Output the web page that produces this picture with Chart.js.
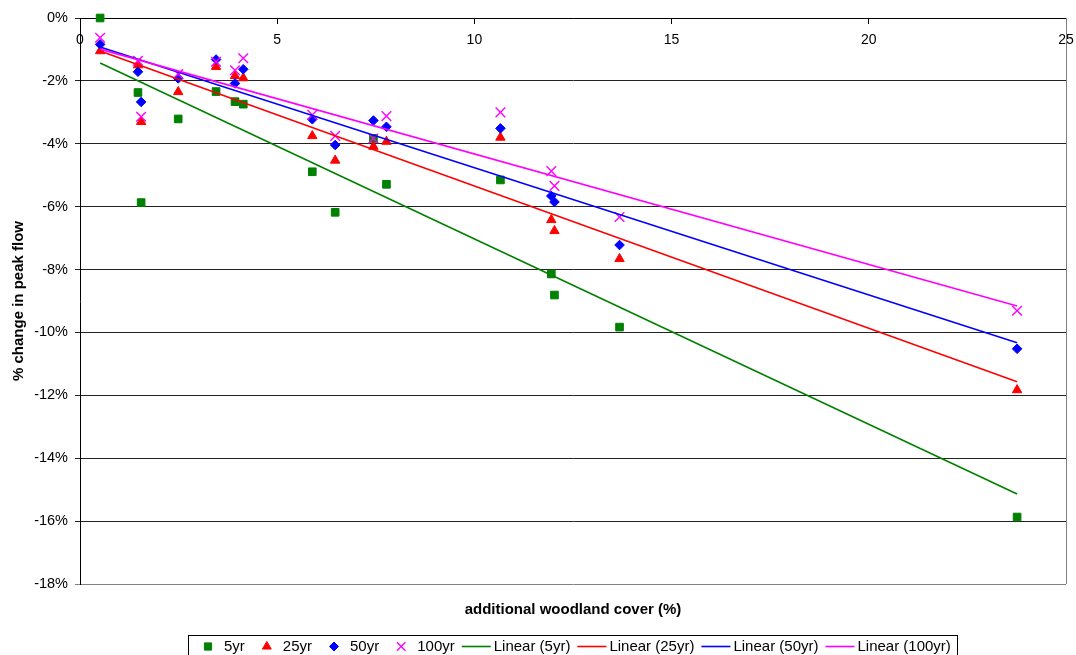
<!DOCTYPE html>
<html>
<head>
<meta charset="utf-8">
<script src="https://cdn.jsdelivr.net/npm/chart.js@4/dist/chart.umd.min.js"></script>
<style>
  html, body { margin: 0; padding: 0; background: #fff; }
</style>
</head>
<body>
<canvas id="chart" width="1076" height="655"></canvas>
<script>
// additional woodland cover (%) for each catchment scenario
const woodland = [0.51, 1.47, 1.55, 2.49, 3.45, 3.93, 4.14, 5.89, 6.47, 7.44, 7.77, 10.66, 11.95, 12.03, 13.68, 23.76];

// % change in peak flow per return period
const flow5yr   = [0, -2.37, -5.87, -3.21, -2.34, -2.66, -2.74, -4.89, -6.18, -3.83, -5.29, -5.15, -8.14, -8.81, -9.83, -15.87];
const flow25yr  = [-1.05, -1.50, -3.30, -2.35, -1.55, -1.84, -1.91, -3.75, -4.53, -4.09, -3.93, -3.80, -6.42, -6.77, -7.66, -11.83];
const flow50yr  = [-0.84, -1.71, -2.67, -1.92, -1.32, -2.08, -1.63, -3.22, -4.04, -3.26, -3.46, -3.51, -5.66, -5.85, -7.22, -10.52];
const flow100yr = [-0.63, -1.36, -3.14, -1.78, -1.39, -1.66, -1.28, -3.08, -3.75, -3.83, -3.12, -3.00, -4.87, -5.34, -6.33, -9.31];

// linear trendlines at first and last x
const trendX      = [0.51, 23.76];
const trend5yr    = [-1.43, -15.14];
const trend25yr   = [-1.05, -11.57];
const trend50yr   = [-0.92, -10.33];
const trend100yr  = [-0.99, -9.16];

const yTicks = [0, -2, -4, -6, -8, -10, -12, -14, -16, -18];
const xTicks = [0, 5, 10, 15, 20, 25];

const FONT = "'Liberation Sans', Arial, sans-serif";
Chart.defaults.font.family = FONT;
Chart.defaults.color = '#000';

const pts = (xs, ys) => xs.map((x, i) => ({ x: x, y: ys[i] }));

function markerSet(label, ys, style, color, radius, order) {
  return {
    label: label,
    data: pts(woodland, ys),
    pointStyle: style,
    pointRadius: radius,
    pointHoverRadius: radius,
    backgroundColor: color,
    borderColor: color,
    pointBorderWidth: style === 'crossRot' ? 1.4 : 1,
    showLine: false,
    clip: false,
    order: order
  };
}

function trendSet(label, ys, color, order) {
  return {
    label: label,
    data: pts(trendX, ys),
    showLine: true,
    borderColor: color,
    backgroundColor: color,
    borderWidth: 1.6,
    pointRadius: 0,
    pointStyle: 'line',
    fill: false,
    order: order
  };
}

const datasets = [
  markerSet('5yr', flow5yr, 'rect', '#008000', 5.4, 8),
  markerSet('25yr', flow25yr, 'triangle', '#ff0000', 5.4, 7),
  markerSet('50yr', flow50yr, 'rectRot', '#0000ff', 4.8, 6),
  markerSet('100yr', flow100yr, 'crossRot', '#ff00ff', 6.8, 5),
  trendSet('Linear (5yr)', trend5yr, '#008000', 4),
  trendSet('Linear (25yr)', trend25yr, '#ff0000', 3),
  trendSet('Linear (50yr)', trend50yr, '#0000ff', 2),
  trendSet('Linear (100yr)', trend100yr, '#ff00ff', 1)
];

// gray right edge of the plot area
const plotBorder = {
  id: 'plotBorder',
  beforeDatasetsDraw(chart) {
    const { ctx, chartArea } = chart;
    ctx.save();
    ctx.strokeStyle = '#808080';
    ctx.lineWidth = 1;
    ctx.beginPath();
    ctx.moveTo(Math.round(chartArea.right) + 0.5, chartArea.top);
    ctx.lineTo(Math.round(chartArea.right) + 0.5, chartArea.bottom);
    ctx.stroke();
    ctx.restore();
  }
};

// excel-like boxed legend at the bottom
const boxLegend = {
  id: 'boxLegend',
  afterDraw(chart) {
    const ctx = chart.ctx;
    const top = 635, cy = 646.5, left = 188;
    ctx.save();
    ctx.font = '15px ' + FONT;
    ctx.textBaseline = 'middle';
    ctx.textAlign = 'left';
    let x = left + 14;
    chart.data.datasets.forEach((ds, i) => {
      const isLine = ds.showLine;
      if (i > 0) x += isLine ? 7 : 16;
      ctx.fillStyle = ds.backgroundColor;
      ctx.strokeStyle = ds.borderColor;
      let textX;
      if (isLine) {
        ctx.lineWidth = 1.6;
        ctx.beginPath();
        ctx.moveTo(x, cy);
        ctx.lineTo(x + 29, cy);
        ctx.stroke();
        textX = x + 32;
      } else {
        ctx.lineWidth = ds.pointBorderWidth;
        Chart.helpers.drawPoint(ctx, {
          pointStyle: ds.pointStyle,
          radius: ds.pointStyle === 'crossRot' ? 6 : ds.pointRadius - 0.3,
          borderWidth: ds.pointBorderWidth,
          rotation: 0
        }, x + 6, cy);
        textX = x + 22;
      }
      ctx.fillStyle = '#000';
      ctx.fillText(ds.label, textX, cy + 0.5);
      x = textX + ctx.measureText(ds.label).width;
    });
    ctx.strokeStyle = '#000';
    ctx.lineWidth = 1;
    ctx.strokeRect(left + 0.5, top + 0.5, Math.round(x + 6 - left), 40);
    ctx.restore();
  }
};

new Chart(document.getElementById('chart').getContext('2d'), {
  type: 'scatter',
  data: { datasets: datasets },
  plugins: [plotBorder, boxLegend],
  options: {
    responsive: false,
    devicePixelRatio: 1,
    animation: false,
    layout: { padding: { left: 0, right: 10, top: 18, bottom: 0 } },
    plugins: {
      legend: { display: false },
      tooltip: { enabled: false },
      title: {
        display: true,
        position: 'bottom',
        fullSize: false,
        text: 'additional woodland cover (%)',
        color: '#000',
        font: { size: 15, weight: 'bold' },
        padding: { top: 17, bottom: 36 }
      }
    },
    scales: {
      x: {
        type: 'linear',
        position: { y: 0 },
        min: 0,
        max: 25,
        afterBuildTicks: s => { s.ticks = xTicks.map(v => ({ value: v })); },
        afterFit: s => { s.paddingLeft = 0; s.paddingRight = 0; },
        ticks: { font: { size: 14 }, color: '#000', padding: 9, maxRotation: 0 },
        grid: { drawOnChartArea: false, drawTicks: true, tickLength: 5, color: '#000' },
        border: { color: '#000', width: 1 }
      },
      y: {
        type: 'linear',
        position: 'left',
        min: -18,
        max: 0,
        afterBuildTicks: s => { s.ticks = yTicks.map(v => ({ value: v })); },
        afterFit: s => { s.width = 80; s.paddingTop = 0; s.paddingBottom = 0; },
        ticks: { font: { size: 14.5 }, color: '#000', padding: 7, callback: v => v + '%' },
        grid: {
          color: c => (c.tick && c.tick.value === -18) ? '#808080' : '#222',
          lineWidth: 1,
          tickLength: 5,
          drawTicks: true
        },
        border: { color: '#000', width: 1 },
        title: {
          display: true,
          text: '% change in peak flow',
          color: '#000',
          font: { size: 15, weight: 'bold' },
          padding: { top: 10, bottom: 0 }
        }
      }
    }
  }
});
</script>
</body>
</html>
